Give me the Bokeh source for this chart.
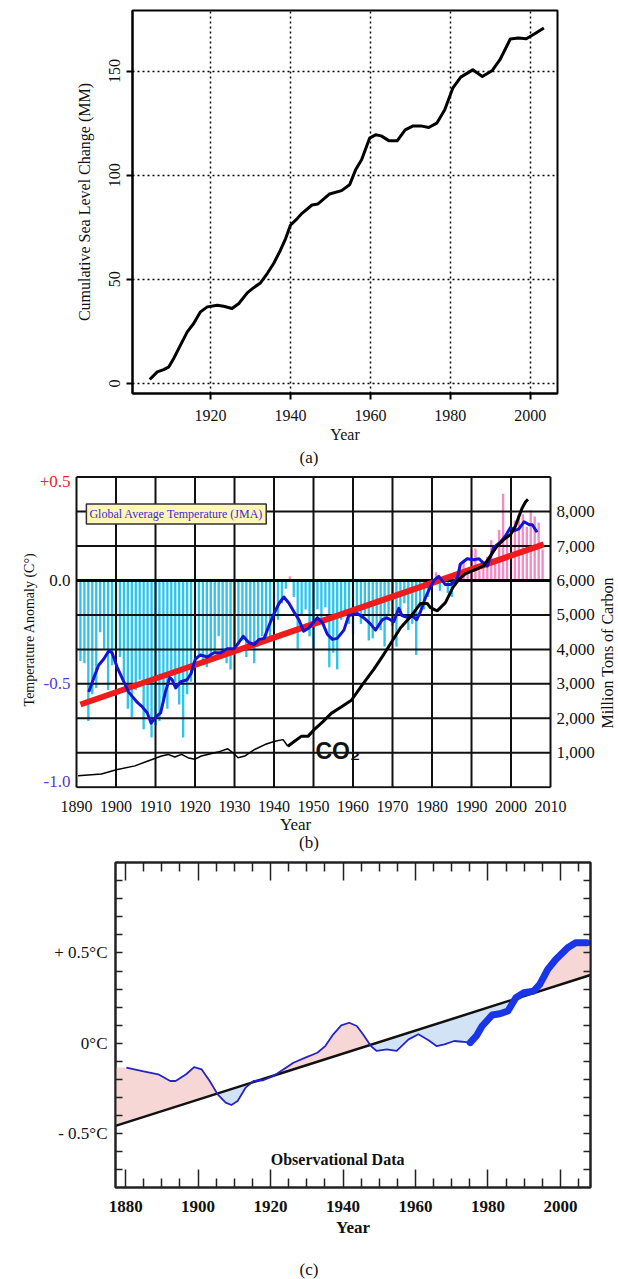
import math
from bokeh.plotting import figure
from bokeh.models import Range1d, LinearAxis, FixedTicker, Label, Div
from bokeh.layouts import column
from bokeh.embed import file_html
from bokeh.resources import INLINE

SERIF = "Liberation Serif"

# ---------------- data: (a) sea level ----------------
sea_years = [1904.8, 1906.7, 1908.3, 1909.6, 1910.8, 1912.5, 1914.2, 1915.8, 1917.5, 1919.2,
             1921.7, 1923.3, 1925.4, 1927.1, 1929.2, 1930.8, 1932.5, 1934.2, 1935.8, 1937.5,
             1938.8, 1940.0, 1941.7, 1942.9, 1945.4, 1946.9, 1949.8, 1952.8, 1954.8, 1956.3,
             1957.8, 1959.8, 1961.3, 1962.7, 1964.7, 1966.7, 1968.7, 1970.7, 1972.6, 1974.6,
             1976.6, 1978.6, 1980.6, 1982.6, 1985.6, 1988.0, 1990.5, 1992.5, 1995.0, 1997.0,
             1999.0, 2001.0, 2003.4]
sea_mm = [1.9, 5.6, 6.7, 8.0, 12.0, 18.4, 24.8, 28.8, 34.4, 36.8,
          37.6, 37.1, 36.0, 38.4, 43.5, 46.0, 48.3, 52.8, 57.6, 64.0,
          69.6, 76.0, 79.2, 81.7, 85.7, 86.2, 91.0, 92.6, 95.4, 102.6,
          107.4, 117.8, 119.4, 118.9, 116.5, 116.5, 121.8, 123.7, 123.7, 122.9,
          125.0, 131.4, 141.8, 147.1, 150.6, 147.4, 150.3, 155.8, 165.4, 165.9,
          165.5, 167.8, 170.7]
a_xticks = [1920, 1940, 1960, 1980, 2000]
a_yticks = [0, 50, 100, 150]

# ---------------- data: (b) JMA temperature / CO2 ----------------
bar_years = list(range(1891, 2009))
bar_vals = [-0.39, -0.40, -0.68, -0.55, -0.52, -0.25, -0.33, -0.53, -0.41, -0.33,
            -0.37, -0.49, -0.62, -0.66, -0.53, -0.48, -0.72, -0.64, -0.76, -0.70,
            -0.68, -0.59, -0.62, -0.46, -0.49, -0.60, -0.76, -0.55, -0.49, -0.29,
            -0.37, -0.40, -0.42, -0.37, -0.35, -0.27, -0.37, -0.40, -0.43, -0.32,
            -0.30, -0.29, -0.37, -0.33, -0.40, -0.32, -0.27, -0.28, -0.27, -0.24,
            -0.19, -0.11, -0.04, 0.02, -0.08, -0.33, -0.17, -0.14, -0.27, -0.33,
            -0.14, -0.19, -0.13, -0.42, -0.35, -0.43, -0.19, -0.16, -0.21, -0.26,
            -0.14, -0.21, -0.17, -0.29, -0.28, -0.22, -0.24, -0.32, -0.17, -0.22,
            -0.32, -0.17, -0.11, -0.24, -0.21, -0.36, -0.13, -0.14, -0.08, 0.08,
            0.04, -0.05, 0.02, -0.06, -0.08, -0.01, 0.08, 0.10, 0.05, 0.15,
            0.155, 0.05, 0.07, 0.115, 0.195, 0.10, 0.245, 0.42, 0.21, 0.22,
            0.29, 0.32, 0.32, 0.26, 0.34, 0.31, 0.28, 0.15]

mean_years = [1893.1, 1894.4, 1895.6, 1896.9, 1898.2, 1899.0, 1900.3, 1902.0, 1903.2, 1905.4,
              1906.6, 1907.9, 1908.9, 1910.1, 1911.3, 1912.5, 1913.6, 1914.2, 1915.1, 1916.4,
              1918.0, 1919.0, 1920.1, 1921.4, 1923.1, 1924.8, 1926.5, 1928.2, 1929.9, 1931.1,
              1932.2, 1933.6, 1935.0, 1936.2, 1937.5, 1938.7, 1940.0, 1941.3, 1942.5, 1943.8,
              1945.0, 1946.3, 1947.5, 1948.8, 1950.1, 1951.0, 1952.3, 1953.5, 1954.8, 1956.0,
              1957.7, 1958.9, 1961.1, 1962.7, 1964.4, 1965.7, 1967.4, 1968.6, 1970.3, 1971.6,
              1972.4, 1974.1, 1975.0, 1976.1, 1977.1, 1978.4, 1979.5, 1980.5, 1981.7, 1983.4,
              1984.7, 1986.4, 1987.2, 1988.9, 1990.6, 1991.9, 1992.7, 1994.0, 1995.6, 1997.3,
              1998.6, 1999.9, 2000.7, 2002.0, 2003.3, 2004.6, 2005.4, 2006.6]
mean_vals = [-0.54, -0.47, -0.41, -0.38, -0.34, -0.35, -0.42, -0.49, -0.54, -0.59,
             -0.61, -0.64, -0.69, -0.66, -0.64, -0.54, -0.47, -0.48, -0.52, -0.49,
             -0.48, -0.45, -0.38, -0.36, -0.37, -0.35, -0.35, -0.33, -0.33, -0.30,
             -0.27, -0.30, -0.31, -0.285, -0.28, -0.22, -0.16, -0.11, -0.08, -0.11,
             -0.15, -0.19, -0.245, -0.23, -0.20, -0.18, -0.205, -0.26, -0.285, -0.28,
             -0.24, -0.17, -0.16, -0.18, -0.21, -0.24, -0.19, -0.18, -0.20, -0.135,
             -0.17, -0.18, -0.17, -0.19, -0.15, -0.08, -0.035, 0.0, 0.02, -0.02,
             -0.02, 0.01, 0.08, 0.105, 0.10, 0.105, 0.09, 0.07, 0.16, 0.185,
             0.215, 0.257, 0.24, 0.25, 0.284, 0.27, 0.27, 0.233]

trend_b_years = [1891.0, 2008.3]
trend_b_vals = [-0.60, 0.175]

co2_years = [1890.4, 1896.3, 1900.1, 1904.8, 1908.1, 1911.5, 1913.2, 1914.9, 1916.6, 1918.2,
             1919.9, 1921.6, 1923.2, 1925.8, 1928.3, 1929.6, 1930.9, 1932.6, 1935.1, 1937.7,
             1940.2, 1942.3, 1943.5, 1945.2, 1946.9, 1948.6, 1950.3, 1952.4, 1954.5, 1957.1,
             1959.6, 1962.2, 1965.3, 1967.8, 1969.9, 1972.0, 1974.6, 1977.1, 1978.8, 1979.6,
             1981.3, 1983.4, 1985.3, 1986.8, 1988.5, 1991.4, 1993.1, 1994.8, 1996.5, 1998.2,
             1999.9, 2001.1, 2002.0, 2002.8, 2003.7, 2004.3]
co2_vals = [333, 381, 505, 619, 762, 905, 952, 876, 952, 857,
            810, 905, 952, 1019, 1114, 1000, 857, 905, 1095, 1238,
            1333, 1381, 1190, 1333, 1476, 1476, 1686, 1905, 2143, 2333,
            2524, 2950, 3429, 3857, 4238, 4619, 4952, 5333, 5333, 5214,
            5119, 5357, 5800, 6024, 6200, 6334, 6429, 6714, 7000, 7191,
            7334, 7571, 7857, 8097, 8286, 8354]

b_xticks = [1890, 1900, 1910, 1920, 1930, 1940, 1950, 1960, 1970, 1980, 1990, 2000, 2010]
b_left_ticks = [-1.0, -0.5, 0.0, 0.5]
b_left_text = ["-1.0", "-0.5", "0.0", "+0.5"]
b_left_colors = ["#4f3ad8", "#4f3ad8", "#111111", "#e8262a"]
b_co2_ticks = [1000, 2000, 3000, 4000, 5000, 6000, 7000, 8000]
b_grid_y = [-1.0 + i / 6 for i in range(10)]

# ---------------- data: (c) observational data ----------------
obs_years = [1880.2, 1884.6, 1889.0, 1892.3, 1893.8, 1896.7, 1898.9, 1901.0, 1903.2, 1905.4,
             1907.6, 1909.2, 1910.9, 1913.1, 1915.3, 1918.0, 1920.8, 1923.5, 1926.3, 1929.6,
             1932.9, 1935.1, 1937.3, 1939.5, 1941.7, 1943.8, 1945.5, 1947.7, 1949.3, 1952.1,
             1954.8, 1958.1, 1960.8, 1963.6, 1965.8, 1968.0, 1970.7, 1972.9, 1975.1]
obs_vals = [-0.134, -0.153, -0.171, -0.208, -0.208, -0.171, -0.131, -0.144, -0.208, -0.282,
            -0.328, -0.341, -0.319, -0.245, -0.208, -0.204, -0.180, -0.144, -0.107, -0.079,
            -0.052, -0.015, 0.050, 0.099, 0.114, 0.096, 0.050, -0.015, -0.042, -0.033,
            -0.042, 0.022, 0.050, 0.017, -0.015, -0.006, 0.013, 0.009, 0.004]
recent_years = [1975.1, 1976.8, 1978.4, 1981.2, 1983.3, 1985.5, 1987.7, 1989.9, 1992.6, 1994.3,
                1996.5, 1998.7, 2002.0, 2004.2, 2007.3]
recent_vals = [0.004, 0.041, 0.096, 0.157, 0.164, 0.179, 0.252, 0.280, 0.289, 0.326,
               0.409, 0.464, 0.529, 0.556, 0.556]
shade_left = (1877.2, -0.134)
shade_right = (2008.3, 0.53)
trend_c_years = [1877.2, 2008.3]
trend_c_vals = [-0.456, 0.378]
c_xticks = [1880, 1900, 1920, 1940, 1960, 1980, 2000]
c_xminor = [1885, 1890, 1895, 1905, 1910, 1915, 1925, 1930, 1935, 1945, 1950, 1955,
            1965, 1970, 1975, 1985, 1990, 1995, 2005]
c_yticks = [-0.5, 0.0, 0.5]
c_ytick_text = ["- 0.5°C", "0°C", "+ 0.5°C"]
c_yminor = [-0.7, -0.6, -0.4, -0.3, -0.2, -0.1, 0.1, 0.2, 0.3, 0.4, 0.6, 0.7, 0.8, 0.9]


def caption(txt, height, pad_top, line_h):
    html = ('<div style="width:618px;text-align:center;font-family:\'Liberation Serif\';'
            'font-size:17px;color:#111111;line-height:%dpx;padding-top:%dpx;">%s</div>'
            % (line_h, pad_top, txt))
    return Div(text=html, width=618, height=height, margin=0)


# =================== (a) ===================
pa = figure(width=618, height=448, x_range=Range1d(1900.5, 2006.8), y_range=Range1d(-4.8, 179.1),
            output_backend="svg", toolbar_location=None,
            min_border_left=132, min_border_right=61, min_border_top=10, min_border_bottom=55)
pa.outline_line_color = "black"
pa.outline_line_width = 2
ax_ab, ax_al = pa.below[0], pa.left[0]
ax_ab.ticker = FixedTicker(ticks=a_xticks)
ax_al.ticker = FixedTicker(ticks=a_yticks)
for ax in (ax_ab, ax_al):
    ax.axis_line_width = 2
    ax.major_tick_out = 6
    ax.major_tick_in = 0
    ax.major_tick_line_width = 2
    ax.minor_tick_line_color = None
    ax.major_label_text_font = SERIF
    ax.major_label_text_font_size = "16px"
    ax.major_label_text_color = "#111111"
    ax.axis_label_text_font = SERIF
    ax.axis_label_text_font_size = "16px"
    ax.axis_label_text_font_style = "normal"
    ax.axis_label_text_color = "#111111"
ax_ab.major_label_standoff = 10
ax_ab.axis_label = "Year"
ax_ab.axis_label_standoff = 2
ax_al.major_label_orientation = "vertical"
ax_al.major_label_standoff = 6
ax_al.axis_label = "Cumulative Sea Level Change (MM)"
ax_al.axis_label_standoff = 14
pa.grid.grid_line_color = "black"
pa.grid.grid_line_dash = "2 3"
pa.grid.grid_line_width = 1.5
pa.line(sea_years, sea_mm, line_color="black", line_width=3, line_join="round")
root_a = column(pa, caption("(a)", 22, 0, 20), spacing=0)

# =================== (b) ===================
px_per_year_b = 3.95
px_per_unit_b = 209.33
b_lo = b_left_ticks[0] - 1.3 / px_per_unit_b
b_hi = b_left_ticks[-1] + 6.7 / px_per_unit_b
pb = figure(width=618, height=366,
            x_range=Range1d(b_xticks[0] - 40 / px_per_year_b, b_xticks[-1] + 68 / px_per_year_b),
            y_range=Range1d(b_lo, b_hi),
            output_backend="svg", toolbar_location=None,
            min_border_left=36, min_border_right=0, min_border_top=0, min_border_bottom=44)
pb.extra_y_ranges = {"co2": Range1d(6000 + b_lo * 6000, 6000 + b_hi * 6000)}
pb.outline_line_color = None
pb.grid.visible = False
ax_bb, ax_bl = pb.below[0], pb.left[0]
ax_bb.ticker = FixedTicker(ticks=b_xticks)
ax_bl.ticker = FixedTicker(ticks=[])

for ax in (ax_bb, ax_bl):
    ax.axis_line_color = None
    ax.major_tick_line_color = None
    ax.minor_tick_line_color = None
    ax.major_label_text_font = SERIF
    ax.major_label_text_font_size = "16px"
    ax.major_label_text_color = "#111111"
    ax.axis_label_text_font = SERIF
    ax.axis_label_text_font_style = "normal"
    ax.axis_label_text_color = "#111111"
ax_bb.major_label_standoff = 6
# trailing no-break spaces shift the centred title left, under the 1890-2010 grid
ax_bb.axis_label = "Year" + "\u00a0" * 15
ax_bb.axis_label_text_font_size = "17px"
ax_bb.axis_label_standoff = 0
ax_bl.major_label_standoff = 0
ax_bl.axis_label = "Temperature Anomaly (C°)"
ax_bl.axis_label_text_font_size = "14px"
ax_bl.axis_label_standoff = 0

bar_colors = ["#f38cc6" if v > 0 else "#30c4ec" for v in bar_vals]
pb.vbar(x=bar_years, top=bar_vals, bottom=0, width=0.6, fill_color=bar_colors,
        line_color=None, level="image")
n_h = len(b_grid_y)
n_v = len(b_xticks)
pb.segment(x0=[b_xticks[0]] * n_h, y0=b_grid_y, x1=[b_xticks[-1]] * n_h, y1=b_grid_y,
           line_color="#111111", line_width=2, level="underlay")
pb.segment(x0=b_xticks, y0=[b_left_ticks[0]] * n_v, x1=b_xticks, y1=[b_left_ticks[-1]] * n_v,
           line_color="#111111", line_width=2, level="underlay")
pb.segment(x0=[b_xticks[0]], y0=[0.0], x1=[b_xticks[-1]], y1=[0.0],
           line_color="black", line_width=3, level="underlay")
pb.line(trend_b_years, trend_b_vals, line_color="#ee1c1c", line_width=6)
pb.line(mean_years, mean_vals, line_color="#1414d2", line_width=3, line_join="round")
k = co2_years.index(1943.5)
pb.line(co2_years[:k + 1], co2_vals[:k + 1], y_range_name="co2", line_color="black", line_width=1.5)
pb.line(co2_years[k:], co2_vals[k:], y_range_name="co2", line_color="black", line_width=3)

# left (temperature) tick labels, coloured individually
for v, t, c in zip(b_left_ticks, b_left_text, b_left_colors):
    yo = -4 if v == 0.5 else (6 if v == -1.0 else 0)
    pb.add_layout(Label(x=b_xticks[0], y=v, x_offset=-6, y_offset=yo, text=t, text_align="right",
                        text_baseline="middle", text_font=SERIF, text_font_size="17px",
                        text_color=c))
# right (carbon) tick labels and title on the secondary scale
for t in b_co2_ticks:
    pb.add_layout(Label(x=b_xticks[-1], y=t, y_range_name="co2", x_offset=6, text=f"{t:,}",
                        text_align="left", text_baseline="middle", text_font=SERIF,
                        text_font_size="17px", text_color="#111111"))
pb.add_layout(Label(x=b_xticks[-1], y=3900, y_range_name="co2", x_offset=57,
                    text="Million Tons of Carbon", angle=math.pi / 2, text_align="center",
                    text_baseline="middle", text_font=SERIF, text_font_size="16px",
                    text_color="#111111"))

pb.add_layout(Label(x=1892.5, y=0.322, text="Global Average Temperature (JMA)",
                    text_baseline="middle", text_font=SERIF, text_font_size="12px",
                    text_color="#3b2bd6", background_fill_color="#fff7b5",
                    border_line_color="#333333", border_line_width=1.5, padding=3))
pb.add_layout(Label(x=1950.5, y=-0.824, text="CO₂", text_baseline="alphabetic",
                    text_font="Liberation Sans", text_font_style="bold", text_font_size="23px",
                    text_color="#111111"))
root_b = column(pb, caption("(b)", 16, 0, 12), spacing=0)

# =================== (c) ===================
pc = figure(width=618, height=392, x_range=Range1d(1877.2, 2008.3), y_range=Range1d(-0.797, 1.0),
            output_backend="svg", toolbar_location=None,
            min_border_left=115, min_border_right=28, min_border_top=10, min_border_bottom=57)
pc.grid.visible = False
pc.outline_line_color = "#222222"
pc.outline_line_width = 2
ax_cb, ax_cl = pc.below[0], pc.left[0]
ax_cb.ticker = FixedTicker(ticks=c_xticks, minor_ticks=c_xminor)
ax_cl.ticker = FixedTicker(ticks=c_yticks, minor_ticks=c_yminor)
top_ax = LinearAxis(ticker=FixedTicker(ticks=c_xticks, minor_ticks=c_xminor))
right_ax = LinearAxis(ticker=FixedTicker(ticks=c_yticks, minor_ticks=c_yminor))
for ax in (ax_cb, top_ax):
    ax.major_tick_in = 18
    ax.minor_tick_in = 9
for ax in (ax_cl, right_ax):
    ax.major_tick_in = 7
    ax.minor_tick_in = 7
for ax in (ax_cb, top_ax, ax_cl, right_ax):
    ax.major_tick_out = 0
    ax.minor_tick_out = 0
    ax.axis_line_width = 2
    ax.axis_line_color = "#222222"
    ax.major_tick_line_width = 1.5
    ax.minor_tick_line_width = 1.5
    ax.major_tick_line_color = "#222222"
    ax.minor_tick_line_color = "#222222"
for ax in (top_ax, right_ax):
    ax.major_label_text_color = None
    ax.major_label_standoff = 0
pc.add_layout(top_ax, "above")
pc.add_layout(right_ax, "right")

ax_cb.major_label_text_font = SERIF
ax_cb.major_label_text_font_size = "17px"
ax_cb.major_label_text_font_style = "bold"
ax_cb.major_label_text_color = "#111111"
ax_cb.major_label_standoff = 13
ax_cb.axis_label = "Year"
ax_cb.axis_label_text_font = SERIF
ax_cb.axis_label_text_font_size = "17px"
ax_cb.axis_label_text_font_style = "bold"
ax_cb.axis_label_text_color = "#111111"
ax_cb.axis_label_standoff = 3

ax_cl.major_label_overrides = dict(zip(c_yticks, c_ytick_text))
ax_cl.major_label_text_font = SERIF
ax_cl.major_label_text_font_size = "17px"
ax_cl.major_label_text_color = "#111111"
ax_cl.major_label_standoff = 8

shade_x = [shade_left[0]] + obs_years + recent_years[1:] + [shade_right[0]]
shade_y = [shade_left[1]] + obs_vals + recent_vals[1:] + [shade_right[1]]
slope = (trend_c_vals[1] - trend_c_vals[0]) / (trend_c_years[1] - trend_c_years[0])
shade_trend = [trend_c_vals[0] + slope * (x - trend_c_years[0]) for x in shade_x]
pc.varea(x=shade_x, y1=shade_trend, y2=[max(a, b) for a, b in zip(shade_y, shade_trend)],
         fill_color="#f7d6d6", level="image")
pc.varea(x=shade_x, y1=shade_trend, y2=[min(a, b) for a, b in zip(shade_y, shade_trend)],
         fill_color="#d3e3f6", level="image")
pc.line(trend_c_years, trend_c_vals, line_color="#111111", line_width=2.5)
pc.line(obs_years, obs_vals, line_color="#2424c8", line_width=1.8, line_join="round")
pc.line(recent_years, recent_vals, line_color="#1a35e8", line_width=7, line_join="round",
        line_cap="round")
pc.add_layout(Label(x=1938.5, y=-0.64, text="Observational Data", text_align="center",
                    text_baseline="middle", text_font=SERIF, text_font_size="16px",
                    text_font_style="bold", text_color="#111111"))
root_c = column(pc, caption("(c)", 35, 17, 18), spacing=0)

open("out.html", "w").write(file_html([root_a, root_b, root_c], INLINE))
